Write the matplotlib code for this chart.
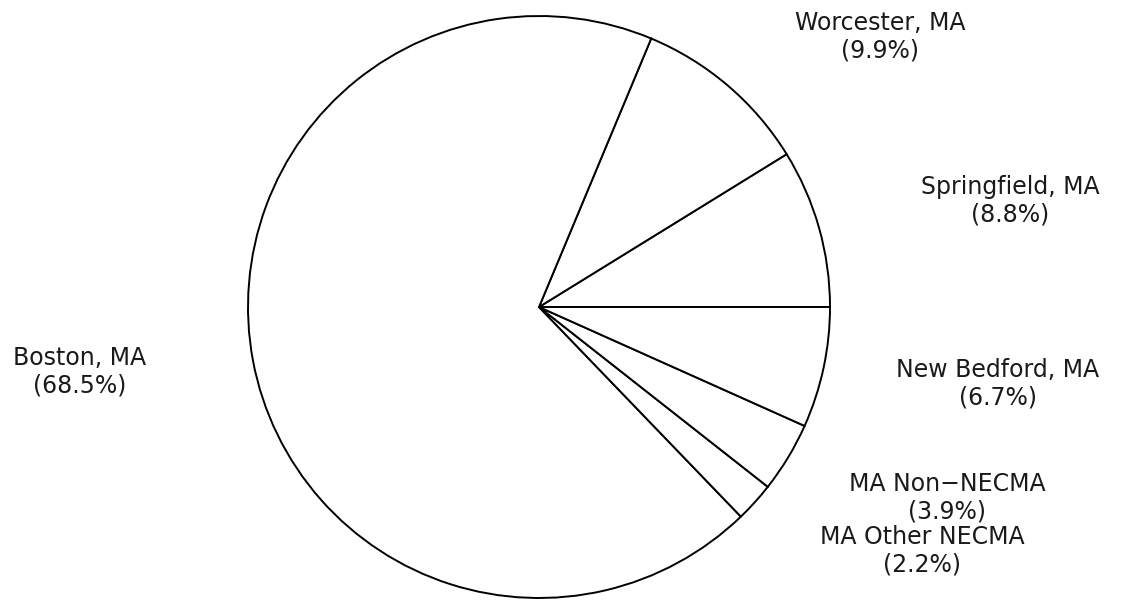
import matplotlib
matplotlib.use("Agg")
import matplotlib.pyplot as plt

# shares of the pie, in drawing order (counter-clockwise from 3 o'clock)
places = ["Springfield, MA", "Worcester, MA", "Boston, MA",
          "MA Other NECMA", "MA Non\u2212NECMA", "New Bedford, MA"]
shares = [8.8, 9.9, 68.5, 2.2, 3.9, 6.7]

# where each label sits (pixel centre of the two-line block)
label_px = [(1010, 201), (880, 37), (80, 372),
            (922, 551), (947, 498), (998, 384)]

W, H = 1130, 601
cx, cy, r = 539, 307, 291

fig = plt.figure(figsize=(W / 100, H / 100), dpi=100)
ax = fig.add_axes([0, 0, 1, 1])
ax.pie(shares, startangle=0, counterclock=True, radius=1,
       colors=["white"] * len(shares),
       wedgeprops=dict(edgecolor="black", linewidth=1.4))
ax.set_xlim(-cx / r, (W - cx) / r)
ax.set_ylim(-(H - cy) / r, cy / r)
ax.set_aspect("auto")
ax.axis("off")

for name, val, (px, py) in zip(places, shares, label_px):
    ax.text((px - cx) / r, (cy - py) / r, f"{name}\n({val}%)",
            ha="center", va="center", fontsize=17, color="#1a1a1a",
            linespacing=1.2)

fig.savefig("out.png", dpi=100, facecolor="white")
